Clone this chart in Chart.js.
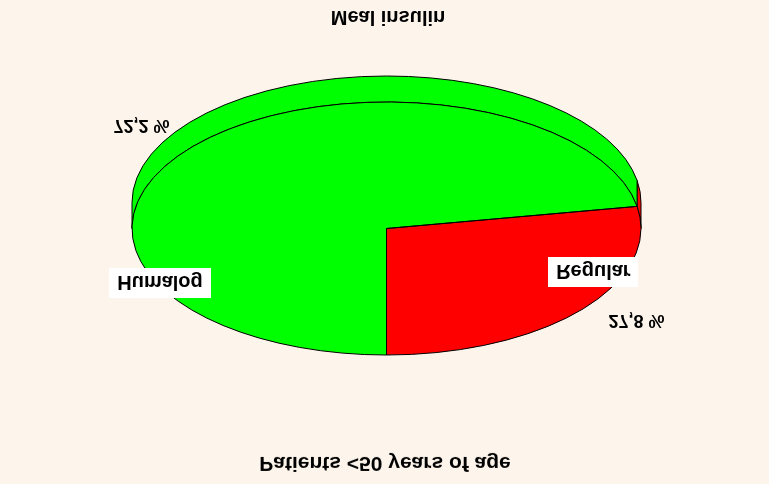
<!DOCTYPE html>
<html>
<head>
<meta charset="utf-8">
<script src="https://cdn.jsdelivr.net/npm/chart.js@4/dist/chart.umd.min.js"></script>
<style>
  html, body { margin: 0; padding: 0; background: #FDF5EC; }
  #wrap { width: 769px; height: 484px; position: relative; transform: scaleY(-1); }
  canvas { display: block; }
</style>
</head>
<body>
<div id="wrap"><canvas id="c" width="769" height="484"></canvas></div>
<script>
// ---- data ----
const categories = ['Regular', 'Humalog'];
const values = [27.8, 72.2];
const percentLabels = ['27,8 %', '72,2 %'];
const titleText = 'Patients <50 years of age';
const footerText = 'Meal insulin';

// ---- style / layout ----
const colors = ['#FF0000', '#00FF00'];
const RX = 254.5, RY = 126.5, DEPTH = 26;
const SY = RY / RX;
// label offsets relative to pie centre, in units of radii
const nameOffsets = [[0.813, -0.34], [-0.89, -0.43]];
const pctOffsets = [[0.982, -0.72], [-0.963, 0.822]];

function withEllipse(ctx, cx, cy, fn) {
  ctx.save();
  ctx.translate(cx, cy);
  ctx.scale(1, SY);
  ctx.translate(-cx, -cy);
  fn();
  ctx.restore();
}

const pie3d = {
  id: 'pie3d',
  beforeDatasetsDraw(chart) {
    const ctx = chart.ctx;
    const arcs = chart.getDatasetMeta(0).data;
    const cx = arcs[0].x, cy = arcs[0].y;
    const d = DEPTH / SY;
    // side wall (front half: angles 0..PI)
    arcs.forEach((a, i) => {
      const lo = Math.max(a.startAngle, 0), hi = Math.min(a.endAngle, Math.PI);
      if (hi <= lo) return;
      ctx.save();
      ctx.translate(cx, cy); ctx.scale(1, SY); ctx.translate(-cx, -cy);
      ctx.beginPath();
      ctx.arc(cx, cy, a.outerRadius, lo, hi);
      ctx.arc(cx, cy + d, a.outerRadius, hi, lo, true);
      ctx.closePath();
      ctx.restore();
      ctx.fillStyle = colors[i];
      ctx.fill();
      ctx.strokeStyle = '#000';
      ctx.lineWidth = 1;
      ctx.stroke();
    });
    // scale for the top face drawn by Chart.js
    ctx.save();
    ctx.translate(cx, cy); ctx.scale(1, SY); ctx.translate(-cx, -cy);
  },
  afterDatasetsDraw(chart) {
    const ctx = chart.ctx;
    ctx.restore();
    const arcs = chart.getDatasetMeta(0).data;
    const cx = arcs[0].x, cy = arcs[0].y;
    // outlines of top-face slices
    arcs.forEach((a) => {
      ctx.save();
      ctx.translate(cx, cy); ctx.scale(1, SY); ctx.translate(-cx, -cy);
      ctx.beginPath();
      ctx.moveTo(cx, cy);
      ctx.arc(cx, cy, a.outerRadius, a.startAngle, a.endAngle);
      ctx.closePath();
      ctx.restore();
      ctx.strokeStyle = '#000';
      ctx.lineWidth = 1;
      ctx.stroke();
    });
    // labels
    ctx.save();
    ctx.textAlign = 'center';
    ctx.textBaseline = 'middle';
    arcs.forEach((a, i) => {
      const rx = a.outerRadius, ry = a.outerRadius * SY;
      // name box
      ctx.font = 'bold 20px "Liberation Sans", Arial, sans-serif';
      const nx = cx + nameOffsets[i][0] * rx, ny = cy + nameOffsets[i][1] * ry;
      const w = ctx.measureText(categories[i]).width + 16, h = 30;
      ctx.fillStyle = '#FFFFFF';
      ctx.fillRect(Math.round(nx - w / 2), Math.round(ny - h / 2), Math.round(w), h);
      ctx.fillStyle = '#000';
      ctx.fillText(categories[i], nx, ny + 1);
      // percentage
      ctx.font = 'bold 18px "Liberation Sans", Arial, sans-serif';
      const px = cx + pctOffsets[i][0] * rx, py = cy + pctOffsets[i][1] * ry;
      ctx.fillText(percentLabels[i], px, py);
    });
    // titles
    ctx.font = 'bold 21px "Liberation Sans", Arial, sans-serif';
    ctx.fillText(titleText, 385, 21);
    ctx.font = 'bold 20px "Liberation Sans", Arial, sans-serif';
    ctx.fillText(footerText, 388, 467);
    ctx.restore();
  }
};

new Chart(document.getElementById('c'), {
  type: 'pie',
  data: {
    labels: categories,
    datasets: [{
      data: values,
      backgroundColor: colors,
      borderWidth: 0,
      radius: RX,
      clip: false
    }]
  },
  options: {
    responsive: false,
    animation: false,
    events: [],
    layout: { padding: { left: 4, right: 0, top: 27, bottom: 0 } },
    plugins: {
      legend: { display: false },
      title: { display: false },
      tooltip: { enabled: false }
    }
  },
  plugins: [pie3d]
});
</script>
</body>
</html>
